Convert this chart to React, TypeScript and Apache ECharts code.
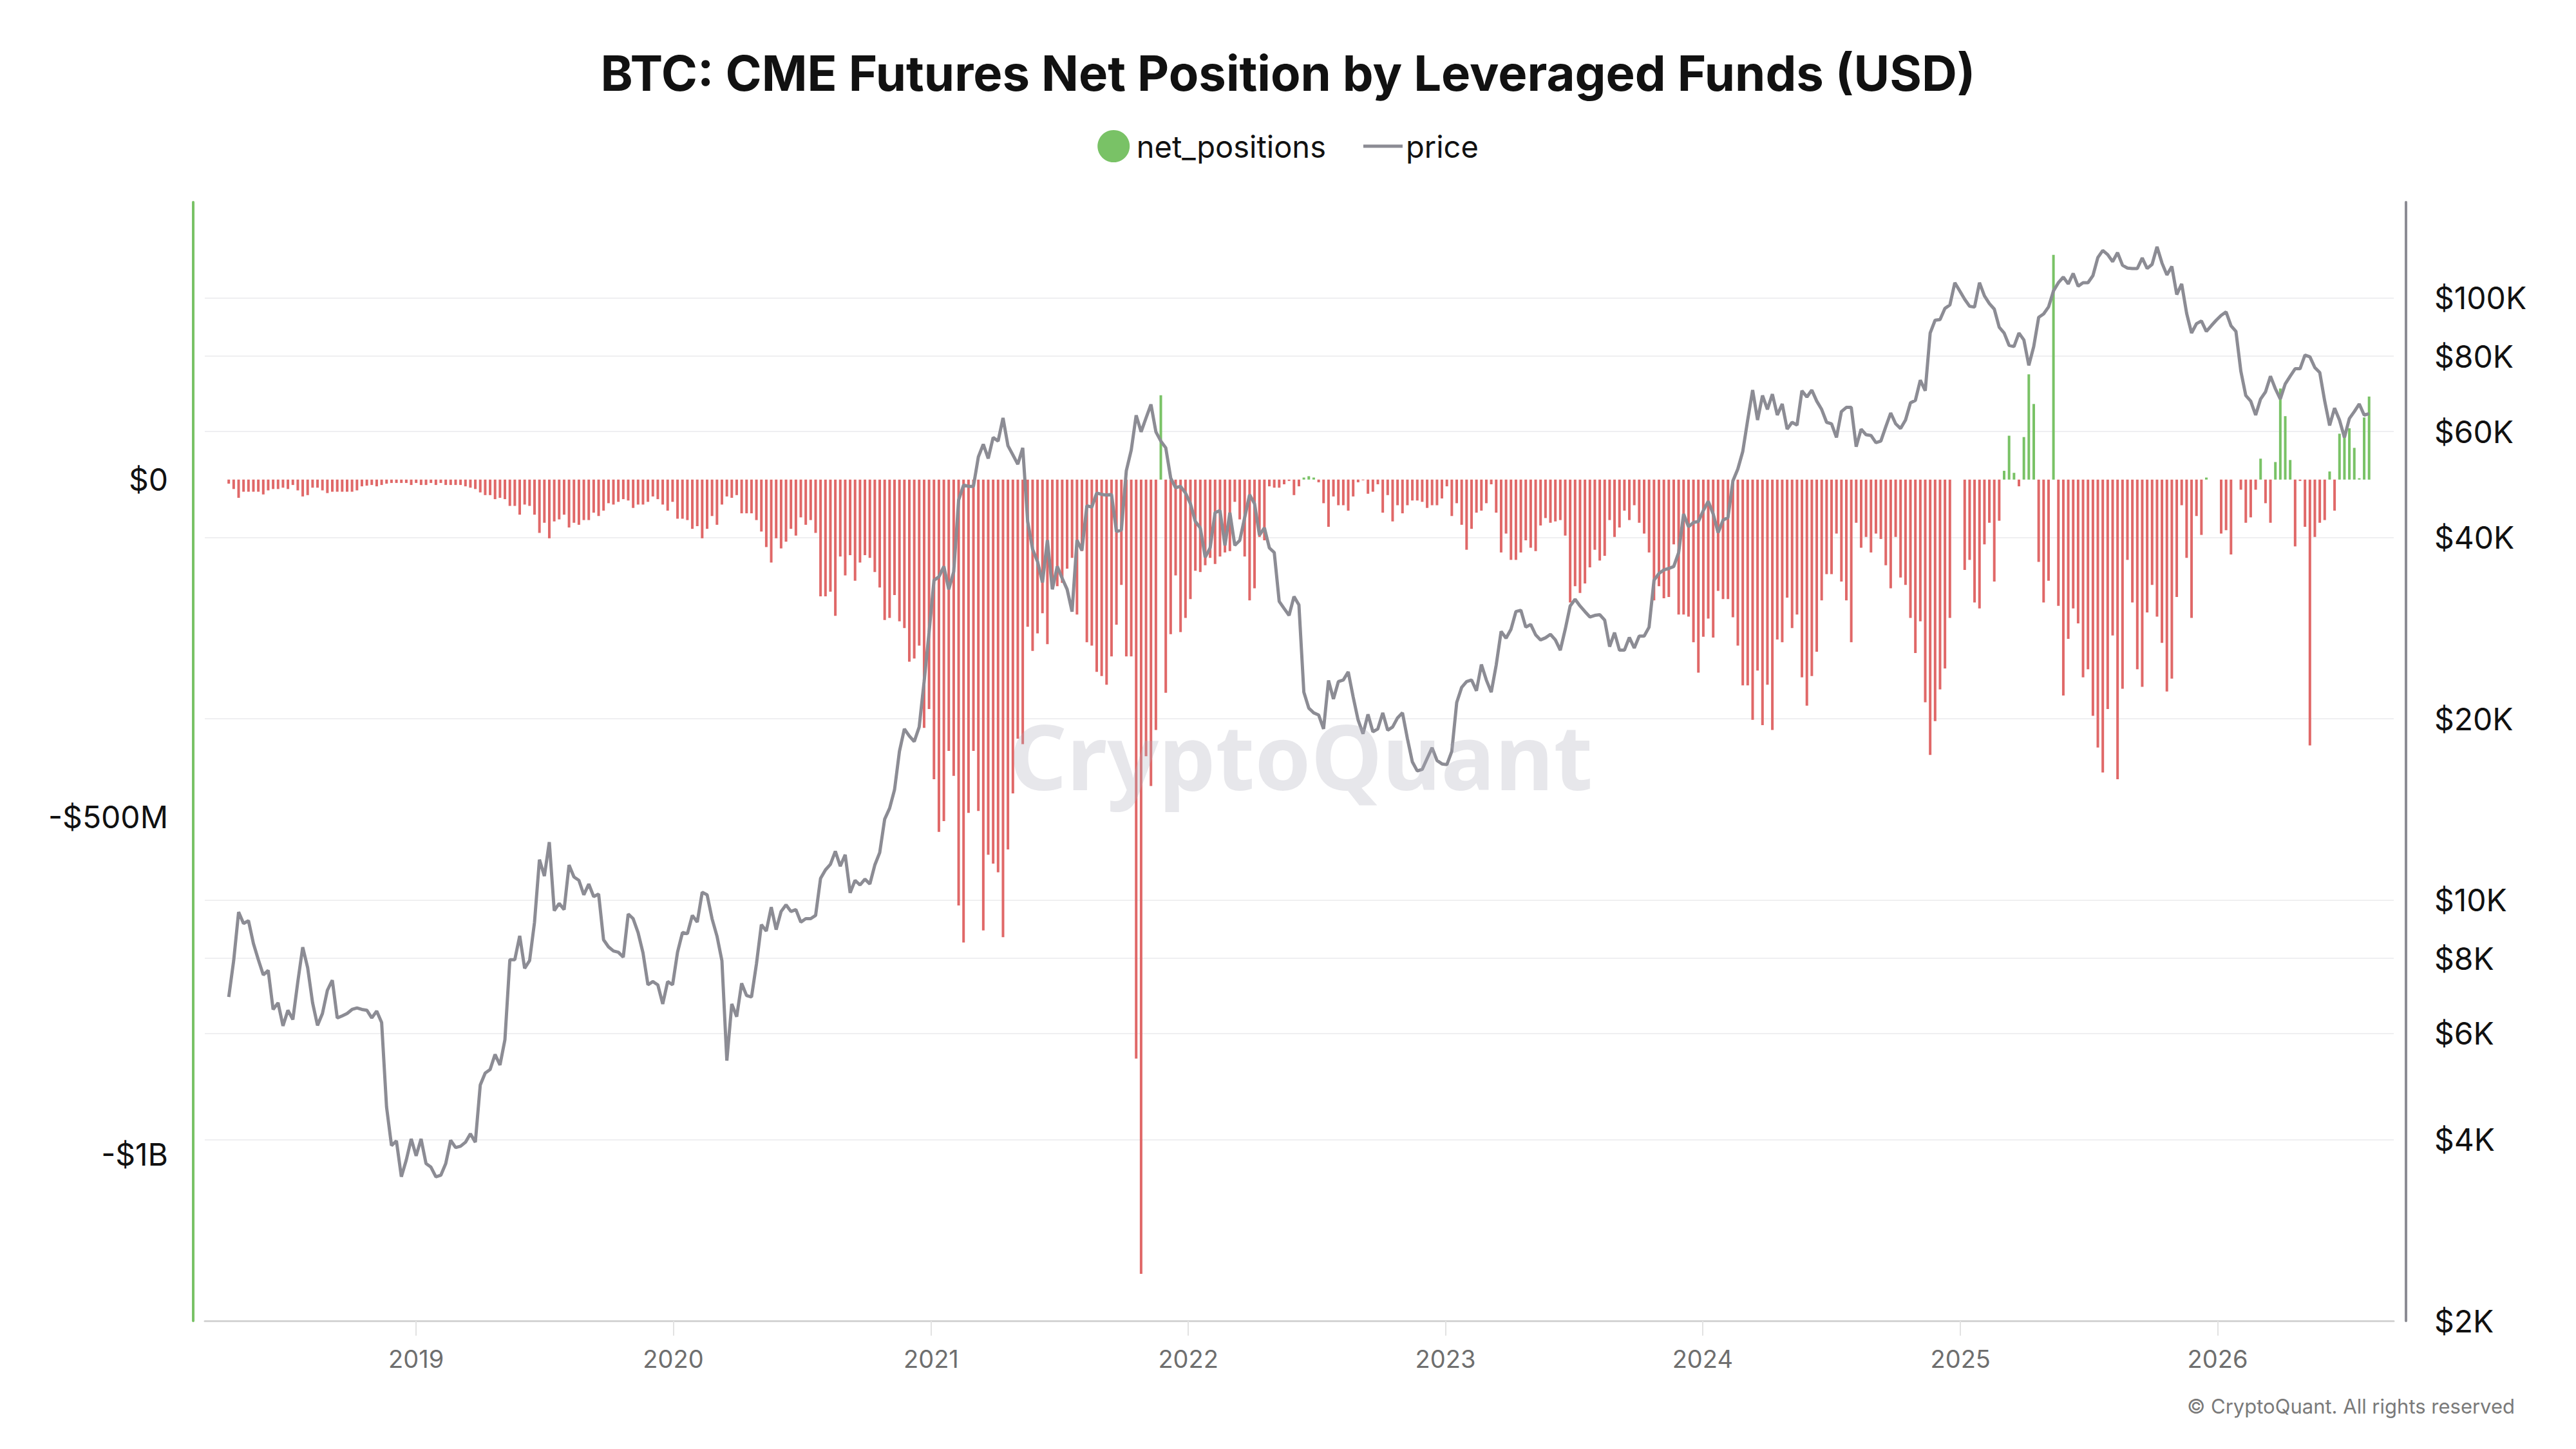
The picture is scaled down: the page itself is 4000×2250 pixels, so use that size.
import { useEffect, useRef } from 'react';
import * as echarts from 'echarts';

// weekly CFTC reports, first one on Tuesday 2018-04-10
const FIRST_REPORT = Date.UTC(2018, 3, 10);
const WEEK_MS = 7 * 24 * 3600 * 1000;

// leveraged funds net position, USD millions
const NET_POSITIONS_M = [
  -6, -14, -27, -18, -18, -18, -18, -22, -16, -14, -14, -12, -14, -8, -16, -25, -23, -12, -12, -16,
  -20, -18, -18, -18, -18, -18, -16, -10, -9, -8, -10, -8, -6, -5, -5, -5, -5, -8, -5, -8,
  -8, -5, -8, -5, -8, -8, -8, -8, -10, -12, -14, -19, -23, -23, -29, -27, -29, -39, -39, -52,
  -37, -39, -52, -79, -64, -87, -62, -59, -52, -71, -64, -67, -60, -60, -49, -54, -46, -35, -37, -33,
  -29, -31, -42, -37, -37, -33, -25, -29, -37, -46, -33, -58, -58, -60, -73, -69, -87, -73, -54, -67,
  -37, -25, -27, -23, -50, -50, -50, -60, -77, -100, -123, -87, -102, -92, -73, -83, -56, -67, -60, -79,
  -173, -173, -166, -202, -114, -142, -112, -150, -123, -112, -116, -137, -160, -208, -205, -171, -210, -220, -270, -265,
  -246, -368, -340, -444, -522, -506, -402, -439, -631, -686, -494, -402, -491, -668, -556, -569, -582, -678, -548, -465,
  -384, -392, -218, -254, -228, -198, -244, -153, -158, -153, -132, -116, -200, -106, -241, -246, -285, -291, -304, -262,
  -215, -156, -262, -262, -858, -1177, -410, -454, -371, 125, -316, -229, -142, -226, -205, -177, -135, -137, -127, -116,
  -125, -114, -108, -106, -33, -59, -114, -179, -161, -85, -90, -10, -12, -12, -7, -2, -23, -10, 3, 5,
  3, -4, -35, -70, -25, -38, -38, -46, -25, -4, -1, -21, -18, -7, -49, -23, -62, -38, -50, -38,
  -31, -31, -33, -42, -38, -38, -28, -10, -54, -35, -67, -104, -73, -49, -46, -35, -7, -49, -108, -80,
  -119, -119, -108, -90, -101, -106, -68, -57, -64, -62, -60, -83, -182, -158, -168, -154, -130, -104, -120, -113,
  -60, -85, -71, -46, -60, -38, -64, -80, -108, -179, -158, -176, -174, -96, -200, -200, -203, -241, -286, -233,
  -206, -234, -165, -177, -177, -204, -246, -305, -305, -356, -283, -364, -304, -371, -237, -241, -175, -220, -200, -293,
  -335, -291, -255, -179, -140, -140, -80, -151, -179, -241, -64, -101, -85, -108, -80, -88, -127, -161, -85, -145,
  -156, -205, -257, -210, -330, -408, -358, -311, -280, -205, 0, 0, -134, -119, -182, -191, -96, -64, -151, -61,
  13, 65, 10, -10, 63, 156, 112, -122, -182, -150, 333, -187, -320, -236, -191, -213, -293, -281, -350, -397,
  -434, -340, -231, -444, -310, -119, -182, -281, -307, -197, -156, -203, -242, -314, -295, -174, -38, -116, -205, -54,
  -82, 3, 0, 0, -80, -75, -111, 0, -15, -64, -56, -15, 31, -35, -64, 26, 135, 94, 29, -99,
  -2, -70, -394, -85, -64, -60, 12, -46, 68, 65, 76, 47, 2, 92, 123,
];

// BTC price on each report date, USD
const PRICE_USD = [
  6900, 7930, 9550, 9140, 9240, 8470, 7960, 7510, 7640, 6580, 6750, 6180, 6560, 6330, 7310, 8350, 7720, 6750, 6190, 6480,
  7080, 7360, 6370, 6420, 6480, 6580, 6620, 6580, 6560, 6370, 6540, 6260, 4530, 3910, 3980, 3470, 3700, 4010, 3760, 4010,
  3650, 3600, 3470, 3490, 3650, 3990, 3880, 3900, 3960, 4090, 3960, 4930, 5160, 5230, 5540, 5320, 5860, 7960, 7960, 8720,
  7700, 7930, 9180, 11670, 10960, 12480, 9600, 9870, 9640, 11430, 10920, 10780, 10200, 10630, 10130, 10230, 8590, 8360, 8230, 8190,
  8040, 9480, 9310, 8830, 8170, 7230, 7320, 7230, 6720, 7320, 7230, 8190, 8830, 8790, 9430, 9190, 10300, 10200, 9310, 8710,
  7930, 5410, 6720, 6400, 7270, 6940, 6900, 7830, 9100, 8880, 9730, 8930, 9570, 9820, 9570, 9640, 9190, 9310, 9310, 9430,
  10860, 11220, 11460, 12050, 11380, 11890, 10280, 10780, 10590, 10830, 10630, 11430, 11990, 13620, 14200, 15240, 17660, 19240, 18720, 18330,
  19380, 23050, 27800, 33960, 34420, 35810, 32810, 35080, 46150, 48890, 48650, 48650, 54450, 57130, 54120, 58660, 57840, 63190, 56830, 54870,
  52940, 56370, 42530, 38240, 36480, 33690, 39600, 32810, 35810, 34220, 32810, 30130, 39600, 38080, 45170, 44930, 47420, 47170, 47050, 47170,
  40930, 41150, 51630, 55890, 63840, 59920, 63190, 66540, 59920, 57840, 56370, 50220, 48400, 48650, 47420, 45530, 42530, 41500, 37080, 38450,
  43990, 44340, 38820, 43990, 38820, 39550, 43160, 47110, 45530, 40370, 41500, 38450, 37760, 31330, 30490, 29700, 31910, 30920, 22140, 20830,
  20460, 20290, 19240, 23160, 21570, 23050, 23200, 23930, 21740, 19910, 18880, 20340, 19030, 19240, 20460, 19140, 19380, 20070, 20460, 18530,
  16960, 16380, 16480, 17180, 17900, 17050, 16830, 16780, 17660, 21290, 22550, 23050, 23200, 22260, 24610, 23200, 22140, 24550, 27940, 27220,
  28160, 30130, 30290, 28390, 28690, 27570, 27040, 27260, 27620, 27040, 26000, 28160, 30790, 31590, 30790, 30130, 29520, 29700, 29780, 29170,
  26350, 27800, 26000, 26000, 27290, 26210, 27440, 27440, 28390, 33960, 34860, 35340, 35530, 35810, 37760, 43760, 41690, 42370, 42530, 44340,
  45950, 43760, 40740, 42760, 43160, 49660, 51990, 55600, 62690, 70310, 62690, 68850, 65280, 69210, 63890, 66660, 60540, 62150, 61480, 70130,
  68450, 70310, 67390, 65280, 62150, 61800, 58660, 64750, 65790, 65790, 56610, 60540, 59260, 59100, 57500, 57840, 61100, 64410, 61800, 60700,
  62690, 66940, 67590, 73000, 70130, 87440, 91820, 92040, 96080, 97370, 106000, 102700, 99470, 96850, 96600, 106000, 100800, 97890, 95810, 89390,
  87440, 83420, 83020, 87440, 85160, 77260, 83020, 92840, 94060, 96600, 102700, 106000, 108300, 105500, 109800, 104600, 106000, 106000, 108900, 116700,
  119900, 118000, 114900, 118900, 113300, 112100, 111900, 111900, 116500, 111900, 113700, 121600, 114300, 109200, 112800, 101300, 105500, 94330, 87440, 90620,
  91580, 87970, 89920, 91820, 93530, 94790, 89900, 87970, 75520, 68850, 67390, 63890, 67940, 69820, 74130, 70640, 67940, 71990, 74130, 76270,
  76270, 80370, 79820, 76620, 75170, 67390, 61400, 65610, 62690, 58660, 63060, 64750, 66660, 63890, 64240,
];

const YEAR_TICKS = [2019, 2020, 2021, 2022, 2023, 2024, 2025, 2026];
const PRICE_TICKS = [2000, 4000, 6000, 8000, 10000, 20000, 40000, 60000, 80000, 100000];
const NET_TICKS = [-1e9, -5e8, 0];

const GREEN = '#79c266';
const RED = '#e06868';
const GREY = '#8c8c94';
const FONT = 'Inter, "Noto Sans", sans-serif';

function formatNet(v: number) {
  if (v === 0) return '$0';
  if (Math.abs(v) >= 1e9) return '-$' + Math.abs(v) / 1e9 + 'B';
  return '-$' + Math.abs(v) / 1e6 + 'M';
}

export default function App() {
  const chartRef = useRef<HTMLDivElement>(null);

  useEffect(() => {
    if (!chartRef.current) return;
    const chart = echarts.init(chartRef.current, null, { renderer: 'svg' });

    const dates = NET_POSITIONS_M.map((_, i) => FIRST_REPORT + i * WEEK_MS);
    const barData = NET_POSITIONS_M.map((v, i) => ({
      value: [dates[i], v * 1e6],
      itemStyle: { color: v >= 0 ? GREEN : RED },
    }));
    const priceData = PRICE_USD.map((p, i) => [dates[i], Math.log10(p)]);
    const yearTicks = YEAR_TICKS.map(y => Date.UTC(y, 0, 1));
    const priceTicks = PRICE_TICKS.map(p => Math.log10(p));

    chart.setOption({
      animation: false,
      backgroundColor: '#ffffff',
      textStyle: { fontFamily: FONT },
      title: {
        text: 'BTC: CME Futures Net Position by Leveraged Funds (USD)',
        left: 'center',
        top: 70,
        textStyle: { fontSize: 76, fontWeight: 700, color: '#111111', fontFamily: FONT },
      },
      legend: {
        top: 197,
        left: 'center',
        itemWidth: 61,
        itemHeight: 50,
        itemGap: 58,
        textStyle: { fontSize: 47, color: '#111111', fontFamily: FONT },
        data: [
          { name: 'net_positions', icon: 'circle' },
          { name: 'price', icon: 'path://M0 0h60v5H0z' },
        ],
      },
      grid: { left: 318, right: 283, top: 314, bottom: 199, outerBoundsMode: 'none' },
      xAxis: {
        type: 'value',
        min: Date.UTC(2018, 2, 7),
        max: Date.UTC(2026, 8, 8),
        axisLine: { onZero: false, lineStyle: { color: '#d4d4d4', width: 3 } },
        axisTick: { show: true, customValues: yearTicks, length: 23, lineStyle: { color: '#e2e2e2', width: 2 } },
        axisLabel: {
          customValues: yearTicks,
          formatter: (v: number) => String(new Date(v).getUTCFullYear()),
          fontSize: 38,
          color: '#6e6e6e',
          margin: 40,
          fontFamily: FONT,
        },
        splitLine: { show: false },
      },
      yAxis: [
        {
          type: 'value',
          position: 'left',
          min: -1.2466e9,
          max: 0.411e9,
          offset: 18,
          axisLine: { show: true, onZero: false, lineStyle: { color: GREEN, width: 4 } },
          axisTick: { show: false, customValues: NET_TICKS },
          axisLabel: { customValues: NET_TICKS, formatter: formatNet, fontSize: 48, color: '#111111', margin: 39, fontFamily: FONT },
          splitLine: { show: false },
        },
        {
          type: 'value',
          position: 'right',
          min: Math.log10(2000),
          max: Math.log10(144200),
          offset: 19,
          axisLine: { show: true, onZero: false, lineStyle: { color: GREY, width: 4 } },
          axisTick: { show: false, customValues: priceTicks },
          axisLabel: {
            customValues: priceTicks,
            formatter: (v: number) => '$' + Math.round(Math.pow(10, v) / 1000) + 'K',
            fontSize: 48,
            color: '#111111',
            margin: 44,
            fontFamily: FONT,
          },
          splitLine: { show: true, lineStyle: { color: '#efeff1', width: 2 } },
        },
      ],
      series: [
        {
          name: 'net_positions',
          type: 'bar',
          yAxisIndex: 0,
          barWidth: 4,
          itemStyle: { color: GREEN },
          data: barData,
        },
        {
          name: 'price',
          type: 'line',
          yAxisIndex: 1,
          symbol: 'none',
          lineStyle: { color: GREY, width: 5 },
          itemStyle: { color: GREY },
          data: priceData,
        },
      ],
      graphic: [
        {
          type: 'text',
          z: 100,
          silent: true,
          style: {
            text: 'CryptoQuant',
            x: 2020,
            y: 1172,
            align: 'center',
            verticalAlign: 'middle',
            fontSize: 140,
            fontWeight: 700,
            fontFamily: '"Noto Sans", sans-serif',
            fill: 'rgba(175,175,188,0.30)',
          },
        },
        {
          type: 'text',
          style: {
            text: '© CryptoQuant. All rights reserved',
            x: 3905,
            y: 2183,
            align: 'right',
            verticalAlign: 'middle',
            fontSize: 31,
            fontFamily: FONT,
            fill: '#7a7a7a',
          },
        },
      ],
    });

    return () => {
      chart.dispose();
    };
  }, []);

  return <div ref={chartRef} style={{ position: 'absolute', left: 0, top: 0, width: 4000, height: 2250 }} />;
}
